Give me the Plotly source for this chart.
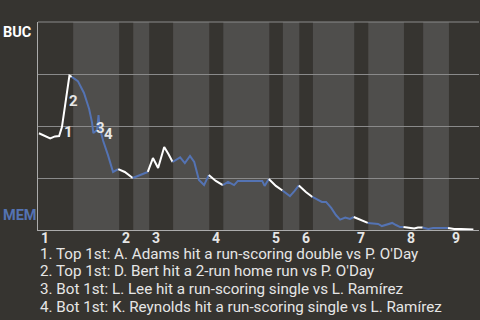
import plotly.graph_objects as go

# ---- data ----
# play position along the game and BUC win probability after each play
play_x = [0.2, 2.6, 3.6, 4.5, 5.1, 6.7, 7.2,
          8.5, 9.8, 10.9, 11.5, 11.8, 12.6, 12.9, 13.1, 13.9, 14.9, 16.0, 17.1,
          18.5, 20.2,
          21.3, 22.4, 23.4,
          24.5, 25.6, 26.9, 27.8, 28.7,
          30.3, 31.3, 32.4, 33.3, 34.3, 35.4, 36.4,
          37.9, 39.4,
          40.5, 41.8, 42.6, 43.9, 45.2, 46.5, 47.8, 48.3, 49.2,
          50.7, 52.1,
          53.7, 54.7, 55.6,
          57.1, 58.5,
          59.7, 60.5, 61.4, 62.5, 63.5, 64.4, 65.5, 66.5, 67.3,
          68.9, 70.3,
          71.4, 72.5, 73.3, 74.4, 75.5, 76.3, 77.2, 77.9,
          79.1, 80.2, 81.0, 82.0,
          83.2, 84.2, 85.7, 87.4,
          88.7, 90.2, 91.5, 92.8, 94.0]
win_prob = [0.465, 0.44, 0.45, 0.452, 0.495, 0.742, 0.736,
            0.716, 0.659, 0.582, 0.519, 0.466, 0.481, 0.553, 0.495, 0.428, 0.361, 0.279, 0.293,
            0.279, 0.25,
            0.26, 0.269, 0.279,
            0.346, 0.298, 0.399, 0.365, 0.327,
            0.349, 0.322, 0.356, 0.327, 0.24, 0.216, 0.264,
            0.236, 0.216,
            0.231, 0.216, 0.236, 0.236, 0.236, 0.236, 0.236, 0.212, 0.245,
            0.212, 0.19,
            0.163, 0.188, 0.214,
            0.183, 0.159,
            0.144, 0.135, 0.135, 0.106, 0.072, 0.05, 0.06, 0.053, 0.0625,
            0.046, 0.034,
            0.031, 0.029, 0.019, 0.026, 0.034, 0.024, 0.014, 0.014,
            0.012, 0.007, 0.012, 0.012,
            0.005, 0.01, 0.01, 0.01,
            0.005, 0.005, 0.002, 0.002, 0.0]
# half-inning boundaries (top 1st, bottom 1st, ..., top 9th, end)
half_edges = [0, 7.5, 17.3, 20.3, 23.7, 28.8, 36.5, 39.5, 49.3, 52.2,
              55.7, 58.6, 67.4, 70.4, 78.0, 82.1, 87.6, 94]
innings = ["1", "2", "3", "4", "5", "6", "7", "8", "9"]
# key plays: index of the play that ends each labelled segment
event_point = [4, 5, 11, 15]
event_text = [
    "1. Top 1st: A. Adams hit a run-scoring double vs P. O'Day",
    "2. Top 1st: D. Bert hit a 2-run home run vs P. O'Day",
    "3. Bot 1st: L. Lee hit a run-scoring single vs L. Ramírez",
    "4. Bot 1st: K. Reynolds hit a run-scoring single vs L. Ramírez",
]
team_top, team_bottom = "BUC", "MEM"

# ---- styling ----
BG = "#363430"
BAND = "#4f4e4c"
GRID = "#8a8a8a"
AXIS = "#ababab"
WHITE = "#ffffff"
BLUE = "#5473b3"
TEXT = "#e6e6e6"
FONT = "Roboto"

fig = go.Figure()

# line, split per half-inning (top halves white, bottom halves blue)
n_half = len(half_edges) - 1
for h in range(n_half):
    lo, hi = half_edges[h], half_edges[h + 1]
    idx = [i for i, x in enumerate(play_x) if lo <= x < hi]
    if not idx:
        continue
    if idx[0] > 0:
        idx = [idx[0] - 1] + idx
    fig.add_trace(go.Scatter(
        x=[play_x[i] for i in idx], y=[win_prob[i] for i in idx],
        mode="lines", line=dict(color=WHITE if h % 2 == 0 else BLUE, width=2),
        hoverinfo="skip", showlegend=False))

shapes = []
for h in range(1, n_half, 2):
    shapes.append(dict(type="rect", xref="x", yref="paper",
                       x0=half_edges[h], x1=half_edges[h + 1], y0=0, y1=1,
                       fillcolor=BAND, line=dict(width=0), layer="below"))
# top grid line (plotly omits the grid line at the range edge)
shapes.append(dict(type="line", xref="paper", yref="paper", x0=0, x1=1,
                   y0=1, y1=1, line=dict(color=GRID, width=1), layer="below"))

annotations = []
# inning numbers at the start of each top half
for k, lab in enumerate(innings):
    annotations.append(dict(x=half_edges[2 * k], y=0, xref="x", yref="paper",
                            text=lab, showarrow=False, xanchor="left",
                            yanchor="middle", xshift=1, yshift=-8,
                            font=dict(family=FONT, size=14, color=TEXT, weight="bold")))
# event numbers at the middle of their segments
for n, i in enumerate(event_point):
    mx = (play_x[i - 1] + play_x[i]) / 2
    my = (win_prob[i - 1] + win_prob[i]) / 2
    annotations.append(dict(x=mx, y=my, xref="x", yref="y", text=str(n + 1),
                            showarrow=False, xanchor="left", yanchor="middle",
                            xshift=1, yshift=0,
                            font=dict(family=FONT, size=15, color=TEXT, weight="bold")))
# team labels
annotations.append(dict(x=0, y=1, xref="paper", yref="paper", text=team_top,
                        showarrow=False, xanchor="left", yanchor="top",
                        xshift=-37, yshift=0,
                        font=dict(family=FONT, size=14.5, color=WHITE, weight="bold")))
annotations.append(dict(x=0, y=0, xref="paper", yref="paper", text=team_bottom,
                        showarrow=False, xanchor="left", yanchor="bottom",
                        xshift=-37, yshift=4,
                        font=dict(family=FONT, size=14.5, color=BLUE, weight="bold")))
# event list
for n, t in enumerate(event_text):
    annotations.append(dict(x=0, y=0, xref="paper", yref="paper", text=t,
                            showarrow=False, xanchor="left", yanchor="middle",
                            xshift=0, yshift=-(23.5 + 17.8 * n),
                            font=dict(family=FONT, size=15.2, color=TEXT)))

fig.update_layout(
    width=480, height=320, autosize=False,
    margin=dict(l=38, r=1, t=22, b=90),
    paper_bgcolor=BG, plot_bgcolor=BG,
    shapes=shapes, annotations=annotations,
    xaxis=dict(range=[half_edges[0], half_edges[-1]], showgrid=False,
               zeroline=False, showticklabels=False, ticks="",
               showline=True, linecolor=AXIS, linewidth=1, fixedrange=True),
    yaxis=dict(range=[0, 1], dtick=0.25, showgrid=True, gridcolor=GRID,
               gridwidth=1, zeroline=False, showticklabels=False, ticks="",
               showline=True, linecolor=AXIS, linewidth=1, fixedrange=True),
    showlegend=False,
)

fig.write_html("out.html", config={"displayModeBar": False})
